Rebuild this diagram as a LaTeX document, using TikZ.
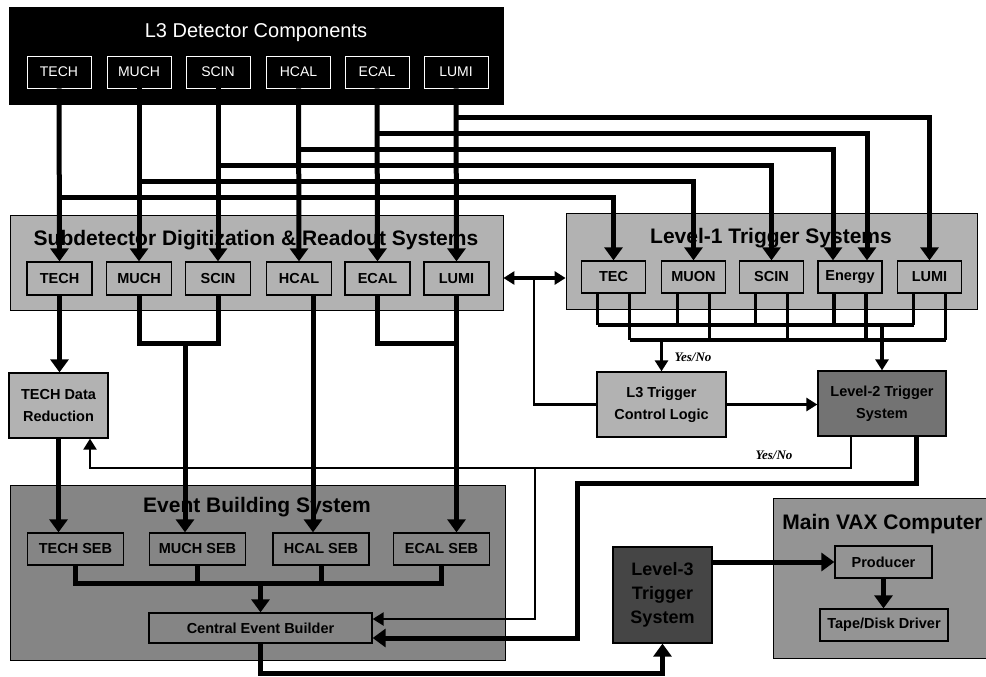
\documentclass[tikz,border=0pt]{standalone}
\usepackage{fontspec}
\setmainfont{Liberation Sans}
\newfontfamily\ynfont{Liberation Serif}
\usetikzlibrary{arrows.meta,calc}
\definecolor{lg}{gray}{0.70}
\definecolor{ebc}{gray}{0.52}
\definecolor{ltwo}{gray}{0.45}
\definecolor{lthree}{gray}{0.27}
\definecolor{vaxc}{gray}{0.58}
\tikzset{
  bigbox/.style={draw=black, line width=0.8pt, inner sep=0pt},
  inbox/.style={draw=black, line width=1.3pt, fill=lg, font=\bfseries\fontsize{14.5}{22}\selectfont,
    minimum height=32pt, minimum width=64pt, inner sep=0pt, align=center},
  topin/.style={draw=white, line width=0.9pt, fill=black, text=white, font=\fontsize{14}{16}\selectfont,
    minimum width=64pt, minimum height=32pt, inner sep=0pt},
  ttl/.style={font=\bfseries\fontsize{21}{24}\selectfont, inner sep=0pt},
  ynlab/.style={font=\ynfont\bfseries\itshape\fontsize{13}{15}\selectfont, inner sep=0pt},
  thk/.style={line width=5pt},
  midl/.style={line width=3.2pt},
  thn/.style={line width=2.4pt},
  atk/.style={-{Triangle[width=18pt,length=13pt]}},
  atn/.style={-{Triangle[width=13pt,length=11pt]}},
}
\begin{document}
\begin{tikzpicture}[x=1pt,y=-1pt,line join=miter]
\useasboundingbox (0,0) rectangle (986,677);
\fill[white] (0,0) rectangle (986,677);

% ---------- boxes ----------
\node[bigbox, fill=black, minimum width=494pt, minimum height=97pt] (top) at (256,55.5) {};
\node[font=\fontsize{20}{24}\selectfont, text=white, inner sep=0pt] (toptitle) at (256,33) {L3 Detector Components};
\foreach \n/\x in {TECH/59,MUCH/139,SCIN/218,HCAL/298.5,ECAL/377,LUMI/456}
  \node[topin] (t\n) at (\x,72) {\n};

\node[bigbox, fill=lg, minimum width=493pt, minimum height=95pt] (sub) at (256.5,262.5) {};
\node[ttl] (subtitle) at (256,240) {Subdetector Digitization \& Readout Systems};
\foreach \n/\x in {TECH/59.5,MUCH/139,SCIN/218,HCAL/299,ECAL/377.5,LUMI/456.5}
  \node[inbox, minimum width=65pt, minimum height=33pt] (s\n) at (\x,278.5) {\n};

\node[bigbox, fill=lg, minimum width=411pt, minimum height=96pt] (L1) at (771.5,261) {};
\node[ttl] (l1title) at (771,238) {Level-1 Trigger Systems};
\foreach \n/\x in {TEC/613.5,MUON/693.5,SCIN/771.5,Energy/850,LUMI/929.5}
  \node[inbox] (l\n) at (\x,277) {\n};

\node[inbox, minimum width=99pt, minimum height=65pt] (tdr) at (58.5,405.5) {TECH Data\\Reduction};
\node[inbox, minimum width=129pt, minimum height=65pt] (l3tcl) at (661.5,404.5) {L3 Trigger\\Control Logic};
\node[inbox, fill=ltwo, minimum width=128pt, minimum height=65pt] (l2) at (882,403.5) {Level-2 Trigger\\System};

\node[bigbox, fill=ebc, minimum width=495pt, minimum height=175pt] (eb) at (257.5,572.5) {};
\node[ttl] (ebtitle) at (257,507) {Event Building System};
\foreach \n/\x in {TECH/75.5,MUCH/197.5,HCAL/321,ECAL/441.5}
  \node[inbox, fill=ebc, minimum width=96pt] (seb\n) at (\x,549) {\n{} SEB};
\node[inbox, fill=ebc, minimum width=223pt, minimum height=30pt] (ceb) at (260.5,628) {Central Event Builder};

\node[inbox, fill=lthree, minimum width=99pt, minimum height=96pt, font=\bfseries\fontsize{18}{24}\selectfont] (l3) at (662.5,595) {Level-3\\Trigger\\System};

\node[bigbox, fill=vaxc, minimum width=216pt, minimum height=160pt] (vax) at (881,578) {};
\node[ttl] (vaxtitle) at (882.5,524) {Main VAX Computer};
\node[inbox, fill=vaxc, minimum width=97pt] (prod) at (883.5,562) {Producer};
\node[inbox, fill=vaxc, minimum width=128pt] (tape) at (884,625) {Tape/Disk Driver};

% ---------- level coordinates ----------
\coordinate (hTECH) at (0,197);
\coordinate (hMUCH) at (0,181);
\coordinate (hSCIN) at (0,165);
\coordinate (hHCAL) at (0,149);
\coordinate (hECAL) at (0,133);
\coordinate (hLUMI) at (0,117);
\coordinate (yj) at (0,343);
\coordinate (yb1) at (0,325);
\coordinate (yb2) at (0,340);
\coordinate (yda) at (0,278);
\coordinate (yfb) at (0,468);
\coordinate (ysb) at (0,583);
\coordinate (ybot) at (0,673);
\coordinate (ythk) at (0,483);

% ---------- feeds to Level-1 ----------
\coordinate (eL) at ($(lEnergy.north)+(-17,0)$);
\coordinate (eR) at ($(lEnergy.north)+(17,0)$);
\draw[thk,atk] (tTECH.south |- hTECH) -| (lTEC.north);
\draw[thk,atk] (tMUCH.south |- hMUCH) -| (lMUON.north);
\draw[thk,atk] (tSCIN.south |- hSCIN) -| (lSCIN.north);
\draw[thk,atk] (tHCAL.south |- hHCAL) -| (eL);
\draw[thk,atk] (tECAL.south |- hECAL) -| (eR);
\draw[thk,atk] (tLUMI.south |- hLUMI) -| (lLUMI.north);

% ---------- verticals to subdetector ----------
\foreach \n in {TECH,MUCH,SCIN,HCAL,ECAL,LUMI}
  \draw[thk,atk] (t\n.south) -- (s\n.north);

% ---------- subdetector outputs ----------
\draw[thk,atk] (sTECH.south) -- (sTECH.south |- tdr.north);
\draw[thk] (sMUCH.south) -- (sMUCH.south |- yj) -- (sSCIN.south |- yj) -- (sSCIN.south);
\coordinate (mj) at (185,343);
\draw[thk,atk] (mj) -- (mj |- sebMUCH.north);
\coordinate (hc) at ($(sHCAL.south)+(14,0)$);
\draw[thk,atk] (hc) -- (hc |- sebHCAL.north);
\draw[thk] (sECAL.south) -- (sECAL.south |- yj) -- (sLUMI.south |- yj);
\draw[thk,atk] (sLUMI.south) -- (sLUMI.south |- sebECAL.north);
\draw[thk,atk] (tdr.south) -- (tdr.south |- sebTECH.north);

% ---------- event building bus ----------
\draw[thk] (sebTECH.south) -- (sebTECH.south |- ysb) -- (sebECAL.south |- ysb) -- (sebECAL.south);
\draw[thk] (sebMUCH.south) -- (sebMUCH.south |- ysb);
\draw[thk] (sebHCAL.south) -- (sebHCAL.south |- ysb);
\draw[thk,atk] (ceb.north |- ysb) -- (ceb.north);
\draw[thk,atk] (ceb.south) -- (ceb.south |- ybot) -| (l3.south);
\draw[thk,atk] (l3.east |- prod.west) -- (prod.west);
\draw[thk,atk] (prod.south) -- (prod.south |- tape.north);

% ---------- Level-1 buses ----------
\foreach \b in {lTEC,lMUON,lSCIN,lEnergy,lLUMI}{
  \coordinate (\b L) at ($(\b.south)+(-16,0)$);
  \coordinate (\b R) at ($(\b.south)+(16,0)$);
}
\foreach \b in {lTEC,lMUON,lSCIN,lEnergy,lLUMI}{
  \draw[midl] (\b L) -- (\b L |- yb1);
  \draw[midl] (\b R) -- (\b R |- yb2);
}
\draw[midl] (lTECL |- yb1) -- (lLUMIL |- yb1);
\draw[midl] (lTECR |- yb2) -- (lLUMIR |- yb2);
\draw[midl,atn] (l3tcl.north |- yb2) -- (l3tcl.north);
\draw[midl,atn] (l2.north |- yb1) -- (l2.north);
\node[ynlab] (yn1) at (693,357) {Yes/No};
\draw[midl,atn] (l3tcl.east) -- (l3tcl.east -| l2.west);

% ---------- double arrow and control lines ----------
\draw[midl,{Triangle[width=13pt,length=11pt]}-{Triangle[width=13pt,length=11pt]}] (sub.east |- yda) -- (L1.west |- yda);
\coordinate (da) at (534,278);
\draw[thn] (da) |- (l3tcl.west);

\coordinate (fb1) at ($(l2.south)+(-31,0)$);
\coordinate (fbT) at ($(tdr.south)+(31.5,0)$);
\draw[thn,atn] (fb1) -- (fb1 |- yfb) -- (fbT |- yfb) -- (fbT);
\node[ynlab] (yn2) at (774,455) {Yes/No};
\coordinate (br) at (535,468);
\draw[thn,atn] (br) |- ($(ceb.east)+(0,-9)$);

\coordinate (l2b) at ($(l2.south)+(34,0)$);
\coordinate (tk) at (577,483);
\draw[thk,atk] (l2b) -- (l2b |- ythk) -- (tk) |- ($(ceb.east)+(0,10)$);
\end{tikzpicture}
\end{document}
